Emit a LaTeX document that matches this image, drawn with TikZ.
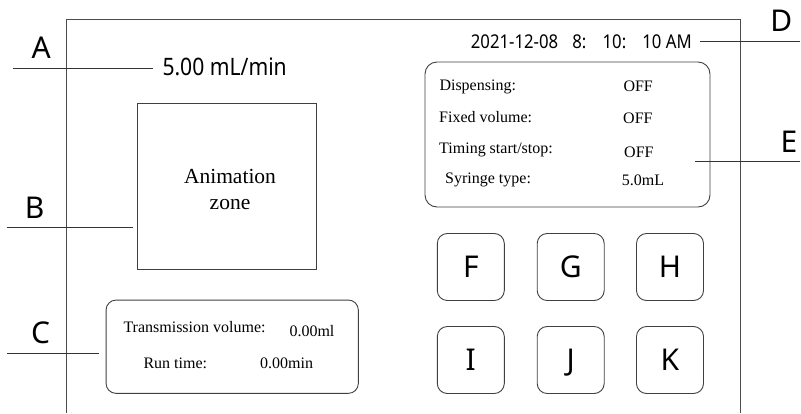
\documentclass[tikz,border=0pt]{standalone}
\usepackage{fontspec}
\setmainfont{Liberation Serif}
\newfontfamily\uifont{Noto Sans}
\newfontfamily\uinarrow[FakeStretch=0.88]{Noto Sans}

\begin{document}
\begin{tikzpicture}[x=1pt,y=-1pt,
  frame/.style={draw=black!70, line width=1pt},
  leader/.style={draw=black!80, line width=0.9pt},
  tag/.style={font=\fontsize{30}{30}\selectfont\uifont, inner sep=0pt, anchor=base},
  panel/.style={draw=black!75, line width=0.9pt, rounded corners=#1, inner sep=0pt},
  key/.style={draw=black!75, line width=0.9pt, rounded corners=10pt,
    minimum width=67pt, minimum height=67pt, inner sep=0pt,
    font=\fontsize{30}{30}\selectfont\uifont, text height=21.4pt, text depth=0pt},
  field/.style={font=\fontsize{16}{16}\selectfont, inner sep=0pt, anchor=base west},
]
\useasboundingbox (0,0) rectangle (801,413);

% screen outline (open at the bottom)
\draw[frame] (66.7,413) -- (66.7,19.3) -- (740,19.3) -- (740,413);

% flow rate and clock
\node[font=\fontsize{24}{24}\selectfont\uinarrow, inner sep=0pt, anchor=base west]
  (rate) at (162.3,75) {5.00 mL/min};
\node[font=\fontsize{19}{19}\selectfont\uinarrow, inner sep=0pt, anchor=base west]
  (date) at (470.7,48) {2021-12-08\hspace{0.75em}8:\hspace{0.85em}10:\hspace{0.85em}10 AM};

% animation area
\node[draw=black!75, line width=0.9pt, minimum width=179pt, minimum height=166pt, inner sep=0pt]
  (anim) at (226.7,186.7) {};
\node[font=\fontsize{21.5}{25.7}\selectfont, align=center, inner sep=0pt]
  (animtext) at (230,189.8) {Animation\\zone};

% status panel
\node[panel=12pt, minimum width=285pt, minimum height=145pt] (ebox) at (567.5,134.5) {};
\node[field] (disp)  at (439.3,90)  {Dispensing:};
\node[field] (dispv) at (623.3,91.7) {OFF};
\node[field] (fix)   at (439,122)   {Fixed volume:};
\node[field] (fixv)  at (623,123)   {OFF};
\node[field] (tim)   at (439,153)   {Timing start/stop:};
\node[field] (timv)  at (624,157)   {OFF};
\node[field] (syr)   at (445,183)   {Syringe type:};
\node[field] (syrv)  at (621.7,185) {5.0mL};

% transmission panel
\node[panel=10pt, minimum width=252.3pt, minimum height=93.3pt] (cbox) at (232.2,346.7) {};
\node[field] (trans)  at (123.3,332.7) {Transmission volume:};
\node[field] (transv) at (289.3,336.7) {0.00ml};
\node[field] (run)    at (143.3,368.3) {Run time:};
\node[field] (runv)   at (260,368.3)   {0.00min};

% keys
\node[key] (F) at (470.8,267) {F};
\node[key] (G) at (570.7,267) {G};
\node[key] (H) at (670,267)   {H};
\node[key] (I) at (470.8,360) {I};
\node[key] (J) at (570.7,360) {J};
\node[key] (K) at (670,360)   {K};

% callout letters
\node[tag] (A) at (41.2,58.3)  {A};
\node[tag] (B) at (34.7,218.3) {B};
\node[tag] (C) at (40.7,343.3) {C};
\node[tag] (D) at (781.2,31.7) {D};
\node[tag] (E) at (789,152.7)  {E};

% callout leaders
\coordinate (aend) at (12.7,68.3);
\coordinate (bend) at (6.7,227.3);
\coordinate (cend) at (7,353.3);
\coordinate (dend) at (800,41);
\coordinate (estart) at (695,161.7);
\coordinate (eend) at (800,161.7);
\draw[leader, shorten >=9.6pt] (aend) -- (aend -| rate.west);
\draw[leader, shorten >=4.2pt] (bend) -- (bend -| anim.west);
\draw[leader, shorten >=6.2pt] (cend) -- (cend -| cbox.west);
\draw[leader, shorten <=8.3pt] (dend -| date.east) -- (dend);
\draw[leader] (estart) -- (eend);
\end{tikzpicture}
\end{document}
